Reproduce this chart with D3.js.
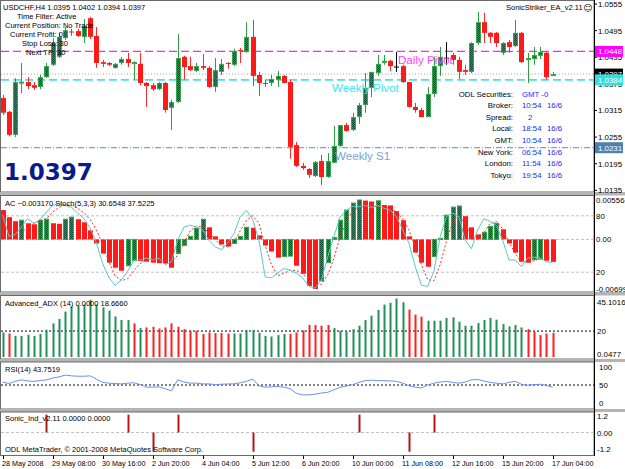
<!DOCTYPE html>
<meta charset="utf-8">
<style>
body { margin: 0; background: #fff; }
text { font-family: "Liberation Sans", Arial, sans-serif; font-size: 7.5px; fill: #000; }
.axis-label { font-size: 7.9px; }
.date-label { font-size: 7.2px; }
.info { font-size: 7.8px; }
</style>
<svg width="625" height="469"></svg>
<script src="https://d3js.org/d3.v7.min.js"></script>
<script>

// USDCHF H4 candles, 28 May - 16 Jun 2008
var opens = [1.0343, 1.0312, 1.0260, 1.0378, 1.0379, 1.0372, 1.0368, 1.0390, 1.0418, 1.0436,
  1.0478, 1.0493, 1.0494, 1.0481, 1.0523, 1.0483, 1.0424, 1.0422, 1.0411, 1.0422,
  1.0431, 1.0422, 1.0420, 1.0377, 1.0372, 1.0363, 1.0377, 1.0321, 1.0334, 1.0436,
  1.0415, 1.0404, 1.0415, 1.0411, 1.0368, 1.0402, 1.0422, 1.0418, 1.0451, 1.0447,
  1.0481, 1.0395, 1.0377, 1.0377, 1.0384, 1.0393, 1.0379, 1.0237, 1.0190, 1.0183,
  1.0167, 1.0201, 1.0165, 1.0197, 1.0235, 1.0282, 1.0271, 1.0300, 1.0327, 1.0366,
  1.0399, 1.0422, 1.0427, 1.0414, 1.0415, 1.0379, 1.0323, 1.0316, 1.0300, 1.0352,
  1.0415, 1.0434, 1.0440, 1.0429, 1.0406, 1.0402, 1.0467, 1.0514, 1.0490, 1.0490,
  1.0445, 1.0469, 1.0460, 1.0490, 1.0431, 1.0431, 1.0438, 1.0445, 1.0395];
var highs = [1.0350, 1.0314, 1.0388, 1.0422, 1.0390, 1.0379, 1.0395, 1.0422, 1.0478, 1.0490,
  1.0503, 1.0499, 1.0499, 1.0521, 1.0526, 1.0503, 1.0429, 1.0424, 1.0422, 1.0436,
  1.0445, 1.0426, 1.0445, 1.0379, 1.0377, 1.0379, 1.0379, 1.0339, 1.0487, 1.0438,
  1.0436, 1.0422, 1.0442, 1.0415, 1.0433, 1.0431, 1.0424, 1.0454, 1.0456, 1.0514,
  1.0519, 1.0402, 1.0384, 1.0395, 1.0404, 1.0395, 1.0384, 1.0244, 1.0197, 1.0185,
  1.0201, 1.0215, 1.0219, 1.0280, 1.0282, 1.0287, 1.0310, 1.0332, 1.0399, 1.0402,
  1.0440, 1.0440, 1.0429, 1.0447, 1.0418, 1.0379, 1.0332, 1.0321, 1.0368, 1.0436,
  1.0458, 1.0469, 1.0445, 1.0436, 1.0418, 1.0469, 1.0537, 1.0535, 1.0492, 1.0492,
  1.0469, 1.0474, 1.0519, 1.0492, 1.0445, 1.0458, 1.0458, 1.0447, 1.0402];
var lows = [1.0305, 1.0257, 1.0255, 1.0354, 1.0363, 1.0361, 1.0363, 1.0388, 1.0415, 1.0433,
  1.0474, 1.0483, 1.0481, 1.0467, 1.0476, 1.0411, 1.0413, 1.0415, 1.0409, 1.0418,
  1.0413, 1.0384, 1.0372, 1.0323, 1.0359, 1.0361, 1.0310, 1.0271, 1.0332, 1.0384,
  1.0404, 1.0402, 1.0406, 1.0366, 1.0357, 1.0395, 1.0409, 1.0415, 1.0422, 1.0445,
  1.0370, 1.0348, 1.0368, 1.0370, 1.0368, 1.0377, 1.0206, 1.0188, 1.0181, 1.0163,
  1.0165, 1.0147, 1.0163, 1.0197, 1.0233, 1.0267, 1.0269, 1.0285, 1.0310, 1.0345,
  1.0393, 1.0418, 1.0404, 1.0402, 1.0377, 1.0321, 1.0310, 1.0300, 1.0300, 1.0345,
  1.0393, 1.0418, 1.0418, 1.0386, 1.0395, 1.0399, 1.0463, 1.0467, 1.0467, 1.0458,
  1.0440, 1.0445, 1.0458, 1.0422, 1.0377, 1.0418, 1.0431, 1.0384, 1.0394];
var closes = [1.0310, 1.0260, 1.0379, 1.0380, 1.0370, 1.0366, 1.0390, 1.0415, 1.0467, 1.0481,
  1.0496, 1.0491, 1.0483, 1.0505, 1.0481, 1.0422, 1.0420, 1.0418, 1.0420, 1.0431,
  1.0422, 1.0424, 1.0377, 1.0370, 1.0363, 1.0377, 1.0316, 1.0334, 1.0433, 1.0413,
  1.0406, 1.0415, 1.0411, 1.0368, 1.0406, 1.0420, 1.0420, 1.0449, 1.0449, 1.0481,
  1.0393, 1.0377, 1.0375, 1.0386, 1.0393, 1.0377, 1.0233, 1.0190, 1.0185, 1.0170,
  1.0199, 1.0165, 1.0201, 1.0235, 1.0282, 1.0269, 1.0300, 1.0327, 1.0366, 1.0402,
  1.0420, 1.0427, 1.0415, 1.0414, 1.0379, 1.0323, 1.0316, 1.0300, 1.0352, 1.0415,
  1.0436, 1.0434, 1.0429, 1.0402, 1.0402, 1.0467, 1.0514, 1.0490, 1.0481, 1.0467,
  1.0467, 1.0458, 1.0490, 1.0424, 1.0433, 1.0440, 1.0447, 1.0390, 1.0397];

// Accelerator oscillator
var acValues = [0.00414, 0.00314, 0.00257, 0.00271, 0.00228, 0.00214, 0.00271, 0.00285, 0.00228, 0.00221,
  0.00285, 0.00314, 0.00285, 0.00242, 0.00128, -0.00057, -0.00200, -0.00328, -0.00399, -0.00442,
  -0.00371, -0.00299, -0.00307, -0.00314, -0.00328, -0.00335, -0.00342, -0.00399, -0.00200, -0.00086,
  0.00043, 0.00157, 0.00285, 0.00171, 0.00043, -0.00071, -0.00100, -0.00057, 0.00043, 0.00171,
  0.00164, 0.00057, -0.00086, -0.00171, -0.00257, -0.00242, -0.00235, -0.00371, -0.00485, -0.00656,
  -0.00699, -0.00585, -0.00328, 0.00029, 0.00271, 0.00414, 0.00513, 0.00556, 0.00548, 0.00535,
  0.00545, 0.00485, 0.00480, 0.00400, 0.00271, 0.00043, -0.00185, -0.00328, -0.00385, -0.00242,
  0.00014, 0.00342, 0.00456, 0.00471, 0.00328, 0.00171, 0.00071, 0.00100, 0.00185, 0.00228,
  0.00143, -0.00057, -0.00185, -0.00314, -0.00328, -0.00285, -0.00278, -0.00300, -0.00317];

// Stochastic (5,3,3)
var stochMain = [81, 58, 60, 68, 77, 72, 76, 84, 91, 93, 91, 89, 83, 77, 67, 51, 29, 14, 6, 12,
  21, 33, 33, 35, 33, 35, 28, 31, 54, 68, 70, 68, 65, 54, 47, 44, 51, 61, 79, 86,
  76, 54, 15, 14, 19, 24, 22, 19, 14, 5, 3, 12, 36, 58, 79, 86, 90, 90, 91, 89,
  91, 88, 86, 79, 65, 51, 26, 6, 5, 21, 58, 79, 83, 79, 54, 45, 65, 77, 74, 70,
  54, 33, 33, 26, 35, 36, 35, 31, 30.65];
var stochSignal = [80, 72, 66, 62, 68, 72, 75, 77, 84, 89, 92, 91, 88, 83, 76, 65, 49, 31, 16, 11,
  13, 22, 29, 34, 34, 34, 32, 31, 38, 51, 64, 69, 68, 62, 55, 48, 47, 52, 64, 75,
  80, 72, 48, 28, 16, 19, 22, 22, 18, 13, 7, 7, 17, 35, 58, 74, 85, 89, 90, 90,
  90, 89, 88, 84, 77, 65, 47, 28, 12, 11, 28, 53, 73, 80, 72, 59, 55, 62, 72, 74,
  66, 52, 40, 31, 31, 32, 35, 34, 37.52];

// Advanced ADX (14), 1 = green bar, 0 = red bar
var adxValues = [18.9, 18.1, 16.3, 16.3, 17.1, 16.3, 17.7, 21.0, 25.9, 29.3,
  35.0, 39.1, 39.7, 40.4, 44.1, 40.4, 38.3, 35.8, 31.3, 28.5,
  28.5, 25.9, 22.3, 22.8, 23.3, 22.0, 22.8, 25.9, 23.3, 21.5,
  20.2, 20.2, 17.7, 18.9, 18.4, 18.4, 18.1, 18.1, 18.1, 20.8,
  20.8, 18.7, 16.3, 15.8, 16.9, 17.7, 17.7, 18.9, 20.5, 24.7,
  24.7, 24.1, 24.7, 22.3, 20.2, 19.7, 21.5, 24.1, 28.5, 31.9,
  36.3, 40.4, 41.8, 45.1, 42.2, 36.5, 32.7, 31.1, 28.0, 28.0,
  28.0, 30.1, 30.6, 27.2, 24.1, 24.1, 26.2, 28.5, 30.1, 28.8,
  25.4, 23.6, 24.7, 22.8, 21.5, 19.7, 16.9, 18.1, 18.67];
var adxUp = [1, 0, 1, 1, 1, 1, 1, 1, 1, 1, 1, 1, 1, 1, 1, 1, 1, 1, 1, 1,
  1, 0, 1, 0, 0, 0, 0, 0, 0, 0, 0, 0, 0, 0, 0, 0, 0, 1, 1, 1,
  1, 1, 1, 1, 1, 1, 0, 0, 0, 0, 0, 0, 0, 1, 1, 1, 1, 1, 1, 1,
  1, 1, 1, 1, 1, 0, 0, 0, 1, 1, 1, 1, 1, 1, 1, 1, 1, 1, 1, 1,
  1, 1, 1, 1, 0, 0, 0, 0, 0];

// RSI (14)
var rsiValues = [58, 54, 60, 64, 61, 60, 62, 64, 69, 72, 77, 75, 74, 74, 75, 66, 57, 55, 54, 53,
  55, 56, 51, 44, 44, 45, 40, 34, 64, 58, 55, 55, 53, 53, 51, 52, 53, 53, 56, 60,
  66, 48, 44, 45, 46, 44, 40, 27, 23, 23, 25, 28, 30, 37, 44, 47, 51, 57, 62, 63,
  62, 62, 61, 60, 55, 48, 44, 42, 50, 55, 58, 60, 57, 55, 58, 64, 65, 61, 57, 55,
  53, 57, 60, 52, 49, 51, 52, 49, 43.75];

// Sonic_Ind signals
var sonicBar = [7, 20, 24, 28, 40, 57, 65, 69];
var sonicValue = [1.3, 1.3, -1.4, 1.3, -1.4, 1.3, -1.4, 1.3];

var priceTicks = [1.0555, 1.0495, 1.0435, 1.0375, 1.0315, 1.0255, 1.0195, 1.0135];
var dateLabels = ["28 May 2008", "29 May 08:00", "30 May 16:00", "2 Jun 20:00", "4 Jun 04:00", "5 Jun 12:00",
  "6 Jun 20:00", "10 Jun 00:00", "11 Jun 08:00", "12 Jun 16:00", "15 Jun 20:00", "17 Jun 04:00"];
var dailyPivot = 1.0448, weeklyPivot = 1.0384, weeklyS1 = 1.0231, lastPrice = 1.0397;

var eaLines = ["Time Filter: Active", "Current Position: No Trade", "Current Profit: 0", "Stop Loss: 30", "Next TP: 30"];
var infoLabels = ["ODL Securities:", "Broker:", "Spread:", "Local:", "GMT:", "New York:", "London:", "Tokyo:"];
var infoTimes = ["GMT -0", "10:54", "2", "18:54", "10:54", "06:54", "11:54", "19:54"];
var infoDates = ["", "16/6", "", "16/6", "16/6", "16/6", "16/6", "16/6"];

var svg = d3.select("svg"),
    right = 594;

var x = d3.scaleLinear().domain([0, 88]).range([2.7, 552.7]),
    yMain = d3.scaleLinear().domain([1.0135, 1.0555]).range([190.3, 4]),
    yAC = d3.scaleLinear().domain([-0.00699, 0.00556]).range([289, 200]),
    yStoch = d3.scaleLinear().domain([0, 100]).range([291, 197]),
    yADX = d3.scaleLinear().domain([0, 45.1016]).range([357, 298.5]),
    yRSI = d3.scaleLinear().domain([0, 100]).range([403.3, 366.7]),
    ySonic = d3.scaleLinear().domain([-1.2, 1.2]).range([449, 416]);

var greenFill = "url(#dots)", greenEdge = "#33a84a", redFill = "#ff1a1a";

var defs = svg.append("defs");
var pat = defs.append("pattern").attr("id", "dots").attr("width", 2).attr("height", 2)
    .attr("patternUnits", "userSpaceOnUse");
pat.append("rect").attr("width", 2).attr("height", 2).attr("fill", "#2a8e60");
pat.append("rect").attr("width", 1).attr("height", 1).attr("fill", "#0f5233");
pat.append("rect").attr("x", 1).attr("y", 1).attr("width", 1).attr("height", 1).attr("fill", "#0f5233");

// panel frames
var panels = [[0.5, 192], [195.5, 292], [295.5, 359], [362, 409], [412, 455.5]];
svg.append("rect").attr("x", 0).attr("y", 0).attr("width", 625).attr("height", 469).attr("fill", "#fff");
panels.forEach(function(p, k) {
  if (k > 0) {
    svg.append("rect").attr("x", 0).attr("y", panels[k - 1][1]).attr("width", 625)
      .attr("height", p[0] - panels[k - 1][1]).attr("fill", "#b4b4b4");
  }
  svg.append("rect").attr("x", 0.5).attr("y", p[0]).attr("width", right - 0.5)
    .attr("height", p[1] - p[0]).attr("fill", "none").attr("stroke", "#6a6a6a");
});

var cx = function(i) { return Math.round(x(i)); };

// ---- main chart ----
var g = svg.append("g");

function hline(y, color, dash, w) {
  g.append("line").attr("x1", 1).attr("x2", right).attr("y1", y).attr("y2", y)
    .attr("stroke", color).attr("stroke-width", w || 1).attr("stroke-dasharray", dash);
}
hline(yMain(lastPrice), "#a8a8a8", "1,2");
hline(yMain(dailyPivot), "#ff22ff", "8,4", 1.3);
hline(yMain(weeklyPivot), "#44e4e4", "8,4", 1.8);
hline(yMain(weeklyS1), "#7aa2d4", "6,2,1,2", 1.3);

var idx = d3.range(opens.length);
var dir = function(i) { return closes[i] > opens[i] ? 1 : (closes[i] < opens[i] ? -1 : 0); };

g.selectAll(".wick").data(idx).enter().append("line")
    .attr("x1", function(i) { return cx(i) + 0.5; })
    .attr("x2", function(i) { return cx(i) + 0.5; })
    .attr("y1", function(i) { return yMain(highs[i]); })
    .attr("y2", function(i) { return yMain(lows[i]); })
    .attr("stroke", function(i) { return dir(i) > 0 ? "#2e9e3e" : (dir(i) < 0 ? "#ff2a2a" : "#000"); });

g.selectAll(".body").data(idx).enter().append("rect")
    .attr("x", function(i) { return dir(i) > 0 ? cx(i) - 1.5 : cx(i) - 2; })
    .attr("y", function(i) { return yMain(Math.max(opens[i], closes[i])) + (dir(i) > 0 ? 0.5 : 0); })
    .attr("width", function(i) { return dir(i) > 0 ? 4 : 5; })
    .attr("height", function(i) { return Math.max(1, Math.abs(yMain(opens[i]) - yMain(closes[i])) - (dir(i) > 0 ? 1 : 0)); })
    .attr("fill", function(i) { return dir(i) > 0 ? greenFill : (dir(i) < 0 ? redFill : "#000"); })
    .attr("stroke", function(i) { return dir(i) > 0 ? greenEdge : "none"; });

g.append("text").attr("x", 398).attr("y", 63.5).style("font-size", "11.6px").style("fill", "#ff44ff").text("Daily Pivot");
g.append("text").attr("x", 332).attr("y", 91.5).style("font-size", "11.6px").style("fill", "#3ae6e6").text("Weekly Pivot");
g.append("text").attr("x", 335).attr("y", 159.5).style("font-size", "11.6px").style("fill", "#7aa2d4").text("Weekly S1");

g.append("text").attr("x", 3).attr("y", 10)
    .text("USDCHF,H4  " + [opens[88], highs[88], lows[88], closes[88]].map(d3.format(".4f")).join(" "));
var eaX = [17, 5, 10, 22, 26];
eaLines.forEach(function(t, k) {
  g.append("text").attr("x", eaX[k]).attr("y", 18.5 + 9.2 * k).text(t);
});
g.append("text").attr("x", 4).attr("y", 180)
    .style("font-family", "DejaVu Sans").style("font-weight", "bold").style("font-size", "23px")
    .style("fill", "#0a1a8c").text(d3.format(".4f")(lastPrice));

g.append("text").attr("x", 506).attr("y", 10).text("SonicStriker_EA_v2.11");
g.append("text").attr("x", 583).attr("y", 10.5).style("font-family", "DejaVu Sans").style("font-size", "9px").text("\u263A");

infoLabels.forEach(function(t, k) {
  var y = 96.7 + 11.57 * k;
  g.append("text").attr("class", "info").attr("x", 513).attr("y", y).attr("text-anchor", "end").text(t);
  g.append("text").attr("class", "info").attr("x", k == 2 ? 528 : 522).attr("y", y).style("fill", "#1c2cf0").text(infoTimes[k]);
  g.append("text").attr("class", "info").attr("x", 547).attr("y", y).style("fill", "#1c2cf0").text(infoDates[k]);
});

// price axis
priceTicks.forEach(function(p) {
  svg.append("line").attr("x1", right).attr("x2", right + 3).attr("y1", yMain(p)).attr("y2", yMain(p)).attr("stroke", "#000");
  svg.append("text").attr("class", "axis-label").attr("x", 598).attr("y", yMain(p) + 3).text(d3.format(".4f")(p));
});
[[dailyPivot, "#ff00ff"], [lastPrice, "#000"], [weeklyPivot, "#30e0e0"], [weeklyS1, "#4a82b4"]].forEach(function(d) {
  var y = yMain(d[0]);
  svg.append("rect").attr("x", right + 1).attr("y", y - 5.5).attr("width", 28).attr("height", 11).attr("fill", d[1]);
  svg.append("text").attr("class", "axis-label").attr("x", 598).attr("y", y + 3).style("fill", "#fff").text(d3.format(".4f")(d[0]));
});

// ---- AC + Stochastic ----
var ac = svg.append("g");
[yStoch(80), yAC(0), yStoch(20)].forEach(function(y) {
  ac.append("line").attr("x1", 1).attr("x2", right).attr("y1", y).attr("y2", y)
    .attr("stroke", "#c0c0c0").attr("stroke-dasharray", "3,2");
});
var acUp = function(i) { return i > 0 && acValues[i] > acValues[i - 1]; };
ac.selectAll("rect").data(idx).enter().append("rect")
    .attr("x", function(i) { return acUp(i) ? cx(i) - 1.5 : cx(i) - 2; })
    .attr("y", function(i) { return Math.min(yAC(0), yAC(acValues[i])); })
    .attr("width", function(i) { return acUp(i) ? 4 : 5; })
    .attr("height", function(i) { return Math.abs(yAC(acValues[i]) - yAC(0)); })
    .attr("fill", function(i) { return acUp(i) ? greenFill : redFill; })
    .attr("stroke", function(i) { return acUp(i) ? greenEdge : "none"; });
ac.append("path").datum(stochSignal)
    .attr("fill", "none").attr("stroke", "#ff2a2a").attr("stroke-dasharray", "2,2")
    .attr("d", d3.line().x(function(d, i) { return x(i); }).y(function(d) { return yStoch(d); }));
ac.append("path").datum(stochMain)
    .attr("fill", "none").attr("stroke", "#5cc8c0")
    .attr("d", d3.line().x(function(d, i) { return x(i); }).y(function(d) { return yStoch(d); }));
ac.append("text").attr("x", 5).attr("y", 205.5)
    .text("AC " + d3.format(".6f")(acValues[88]) + "  Stoch(5,3,3) 30.6548 37.5225");
[["0.00556", yAC(0.00556)], ["80", yStoch(80)], ["0.00", yAC(0)], ["20", yStoch(20)], ["-0.00699", yAC(-0.00699)]].forEach(function(t) {
  svg.append("text").attr("class", "axis-label").attr("x", 596).attr("y", t[1] + 3).text(t[0]);
});

// ---- ADX ----
var adx = svg.append("g");
adx.append("line").attr("x1", 1).attr("x2", right).attr("y1", yADX(20)).attr("y2", yADX(20))
    .attr("stroke", "#000").attr("stroke-dasharray", "2,2");
adx.selectAll("rect").data(idx).enter().append("rect")
    .attr("x", function(i) { return cx(i) - 0.5; })
    .attr("y", function(i) { return yADX(adxValues[i]); })
    .attr("width", 2)
    .attr("height", function(i) { return yADX(0) - yADX(adxValues[i]); })
    .attr("fill", function(i) { return adxUp[i] ? "#23905a" : "#ff2020"; });
adx.append("text").attr("x", 5).attr("y", 306).text("Advanced_ADX (14) 0.0000 18.6660");
[["45.1016", yADX(45.1016) + 3], ["20", yADX(20)], ["0.0477", 354]].forEach(function(t) {
  svg.append("text").attr("class", "axis-label").attr("x", 597).attr("y", t[1] + 3).text(t[0]);
});

// ---- RSI ----
var rsi = svg.append("g");
rsi.append("line").attr("x1", 1).attr("x2", right).attr("y1", yRSI(50)).attr("y2", yRSI(50))
    .attr("stroke", "#000").attr("stroke-dasharray", "2,2");
rsi.append("path").datum(rsiValues)
    .attr("fill", "none").attr("stroke", "#6a8ff0")
    .attr("d", d3.line().x(function(d, i) { return x(i); }).y(function(d) { return yRSI(d); }));
rsi.append("text").attr("x", 5).attr("y", 372).text("RSI(14) " + d3.format(".4f")(43.7519));
[100, 50, 0].forEach(function(v) {
  svg.append("text").attr("class", "axis-label").attr("x", 599).attr("y", yRSI(v) + 3).text(v);
});

// ---- Sonic_Ind ----
var son = svg.append("g");
son.append("line").attr("x1", 1).attr("x2", right).attr("y1", ySonic(0)).attr("y2", ySonic(0))
    .attr("stroke", "#c0c0c0").attr("stroke-dasharray", "3,2");
son.selectAll("rect").data(sonicBar).enter().append("rect")
    .attr("x", function(b) { return cx(b) - 0.5; })
    .attr("y", function(b, k) { return Math.min(ySonic(0), ySonic(sonicValue[k])); })
    .attr("width", 2)
    .attr("height", function(b, k) { return Math.abs(ySonic(sonicValue[k]) - ySonic(0)); })
    .attr("fill", "#b01818");
son.append("text").attr("x", 5).attr("y", 420.5).text("Sonic_Ind_v2.11 0.0000 0.0000");
son.append("text").attr("x", 5).attr("y", 452).text("ODL MetaTrader, \u00A9 2001-2008 MetaQuotes Software Corp.");
[["1.2", 1.2], ["0.00", 0], ["-1.2", -1.2]].forEach(function(t) {
  svg.append("text").attr("class", "axis-label").attr("x", 597).attr("y", ySonic(t[1]) + 3).text(t[0]);
});

// ---- time axis ----
svg.append("line").attr("x1", right + 0.5).attr("x2", right + 0.5).attr("y1", 0).attr("y2", 456).attr("stroke", "#000");
dateLabels.forEach(function(t, k) {
  var b = k * 8;
  svg.append("line").attr("x1", cx(b) + 0.5).attr("x2", cx(b) + 0.5).attr("y1", 455.5).attr("y2", 459).attr("stroke", "#000");
  svg.append("text").attr("class", "date-label").attr("x", cx(b) - 1).attr("y", 466).text(t);
});

</script>
